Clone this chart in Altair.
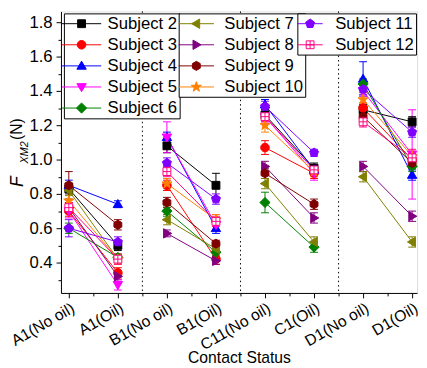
import json
import altair as alt
import pandas as pd

categories = ["A1(No oil)", "A1(Oil)", "B1(No oil)", "B1(Oil)",
              "C11(No oil)", "C1(Oil)", "D1(No oil)", "D1(Oil)"]
subjects = ["Subject 2", "Subject 3", "Subject 4", "Subject 5", "Subject 6", "Subject 7",
            "Subject 8", "Subject 9", "Subject 10", "Subject 11", "Subject 12"]
colors = ["#000000", "#FF0000", "#0000FF", "#FF00FF", "#008000", "#808000",
          "#800080", "#800000", "#FF8000", "#8000FF", "#FF0080"]
fills = ["#000000", "#FF0000", "#0000FF", "#FF00FF", "#008000", "#808000",
         "#800080", "#800000", "#FF8000", "#8000FF", "#FFFFFF"]

s2 = [0.83, 0.50, 1.08, 0.85, 1.26, 0.95, 1.29, 1.22]
s3 = [0.70, 0.34, 0.85, 0.42, 1.07, 0.92, 1.30, 1.00]
s4 = [0.85, 0.74, 1.13, 0.60, 1.32, 0.94, 1.47, 0.91]
s5 = [0.70, 0.27, 1.13, 0.62, 1.25, 0.92, 1.40, 1.03]
s6 = [0.60, 0.43, 0.70, 0.46, 0.75, 0.49, 1.44, 0.96]
s7 = [0.82, 0.42, 0.65, 0.48, 0.86, 0.52, 0.90, 0.52]
s8 = [0.72, 0.32, 0.57, 0.41, 0.96, 0.66, 0.96, 0.67]
s9 = [0.85, 0.62, 0.75, 0.51, 0.92, 0.74, 1.25, 0.98]
s10 = [0.76, 0.42, 0.86, 0.65, 1.20, 0.93, 1.35, 1.02]
s11 = [0.60, 0.52, 0.98, 0.77, 1.31, 1.04, 1.41, 1.16]
s12 = [0.72, 0.42, 0.93, 0.64, 1.25, 0.94, 1.22, 1.01]

e2 = [0.03, 0.03, 0.04, 0.07, 0.03, 0.03, 0.03, 0.03]
e3 = [0.03, 0.03, 0.03, 0.03, 0.04, 0.03, 0.03, 0.04]
e4 = [0.03, 0.02, 0.03, 0.03, 0.03, 0.03, 0.10, 0.03]
e5 = [0.04, 0.03, 0.09, 0.03, 0.03, 0.04, 0.03, 0.26]
e6 = [0.03, 0.02, 0.03, 0.02, 0.06, 0.03, 0.03, 0.03]
e7 = [0.03, 0.02, 0.03, 0.02, 0.03, 0.03, 0.03, 0.03]
e8 = [0.03, 0.02, 0.02, 0.02, 0.03, 0.03, 0.03, 0.03]
e9 = [0.08, 0.03, 0.03, 0.02, 0.03, 0.03, 0.03, 0.03]
e10 = [0.05, 0.03, 0.03, 0.03, 0.04, 0.03, 0.04, 0.03]
e11 = [0.05, 0.03, 0.03, 0.03, 0.03, 0.02, 0.03, 0.03]
e12 = [0.03, 0.03, 0.03, 0.03, 0.03, 0.03, 0.03, 0.05]

separators = [2.5, 4.5, 6.5]
y_major = [0.4, 0.6, 0.8, 1.0, 1.2, 1.4, 1.6, 1.8]
y_minor = [0.3, 0.5, 0.7, 0.9, 1.1, 1.3, 1.5, 1.7]
x_major = [1, 2, 3, 4, 5, 6, 7, 8]
x_minor = [1.5, 2.5, 3.5, 4.5, 5.5, 6.5, 7.5]

vals = [s2, s3, s4, s5, s6, s7, s8, s9, s10, s11, s12]
errs = [e2, e3, e4, e5, e6, e7, e8, e9, e10, e11, e12]

# marker outlines in unit coordinates
markers = [
    "M-1,-1L1,-1L1,1L-1,1Z",
    "M-1.1,0A1.1,1.1,0,1,1,1.1,0A1.1,1.1,0,1,1,-1.1,0Z",
    "M0,-1.2L1.2,0.85L-1.2,0.85Z",
    "M0,1.2L1.2,-0.85L-1.2,-0.85Z",
    "M0,-1.3L1.3,0L0,1.3L-1.3,0Z",
    "M-1.2,0L0.85,-1.2L0.85,1.2Z",
    "M1.2,0L-0.85,-1.2L-0.85,1.2Z",
    "M0,-1.15L1,-0.58L1,0.58L0,1.15L-1,0.58L-1,-0.58Z",
    "M0,-1.35L0.32,-0.44L1.28,-0.42L0.51,0.17L0.79,1.09L0,0.54L-0.79,1.09L-0.51,0.17L-1.28,-0.42L-0.32,-0.44Z",
    "M0,-1.2L1.14,-0.37L0.7,0.97L-0.7,0.97L-1.14,-0.37Z",
    "M-1,-1L1,-1L1,1L-1,1ZM0,-1L0,1M-1,0L1,0",
]

rows = []
for si, s in enumerate(subjects):
    for ci, c in enumerate(categories):
        v = vals[si][ci]
        e = errs[si][ci]
        rows.append({"subject": s, "pos": ci + 1, "value": v, "lo": v - e, "hi": v + e,
                     "pair": ci // 2})
df = pd.DataFrame(rows)

FONT = "Liberation Sans"
xscale = alt.Scale(domain=[0.84, 8.1], nice=False, zero=False)
yscale = alt.Scale(domain=[0.223, 1.863], nice=False, zero=False)


def cscale():
    return alt.Scale(domain=subjects, range=colors)


base = alt.Chart(df)

seps = alt.Chart(pd.DataFrame({"s": separators})).mark_rule(
    color="black", strokeWidth=1, strokeDash=[1.5, 3]
).encode(x=alt.X("s:Q", scale=xscale, axis=None))

lines = base.mark_line(strokeWidth=1, opacity=1).encode(
    x=alt.X("pos:Q", scale=xscale,
            axis=alt.Axis(values=x_minor, labels=False, tickSize=3, domain=False,
                          grid=False, title=None, orient="bottom", tickColor="black")),
    y=alt.Y("value:Q", scale=yscale,
            axis=alt.Axis(values=y_minor, labels=False, tickSize=3, domain=False,
                          grid=False, title=None, orient="left", tickColor="black")),
    color=alt.Color("subject:N", scale=cscale(), legend=None),
    detail="pair:N",
)

ebar = base.mark_rule(strokeWidth=1, opacity=1).encode(
    x=alt.X("pos:Q", scale=xscale, axis=None),
    y=alt.Y("lo:Q", scale=yscale, axis=None),
    y2="hi:Q",
    color=alt.Color("subject:N", scale=cscale(), legend=None),
)
cap_lo = base.mark_tick(orient="horizontal", size=8, thickness=1, opacity=1).encode(
    x=alt.X("pos:Q", scale=xscale, axis=None),
    y=alt.Y("lo:Q", scale=yscale, axis=None),
    color=alt.Color("subject:N", scale=cscale(), legend=None),
)
cap_hi = base.mark_tick(orient="horizontal", size=8, thickness=1, opacity=1).encode(
    x=alt.X("pos:Q", scale=xscale, axis=None),
    y=alt.Y("hi:Q", scale=yscale, axis=None),
    color=alt.Color("subject:N", scale=cscale(), legend=None),
)

label_expr = json.dumps(categories) + "[datum.value - 1]"
points = base.mark_point(filled=True, size=64, strokeWidth=1, opacity=1).encode(
    x=alt.X("pos:Q", scale=xscale,
            axis=alt.Axis(values=x_major, labelExpr=label_expr, labelAngle=330,
                          labelAlign="right", labelBaseline="top", labelFontSize=16,
                          labelFont=FONT, labelColor="black", labelPadding=2,
                          tickSize=5, tickColor="black", domainColor="black",
                          grid=False, orient="bottom", labelOverlap=False,
                          labelFlush=False, title="Contact Status", titleFont=FONT,
                          titleFontSize=16, titleFontWeight="normal",
                          titleColor="black", titlePadding=-3)),
    y=alt.Y("value:Q", scale=yscale,
            axis=alt.Axis(values=y_major, format=".1f", labelFontSize=17,
                          labelFont=FONT, labelColor="black", labelPadding=4,
                          tickSize=5, tickColor="black", domainColor="black",
                          grid=False, orient="left", title=None)),
    fill=alt.Fill("subject:N", scale=alt.Scale(domain=subjects, range=fills), legend=None),
    stroke=alt.Stroke("subject:N", scale=cscale(), legend=None),
    shape=alt.Shape("subject:N", scale=alt.Scale(domain=subjects, range=markers), legend=None),
)


def legend_layer(idx, half, lx, sym_off, lab_off):
    subs = [subjects[i] for i in idx]
    shapes = [f"M-{half},0L{half},0" + markers[i] for i in idx]
    leg = alt.Legend(orient="none", legendX=lx, legendY=2, title=None,
                     labelFont=FONT, labelFontSize=17, labelColor="black",
                     symbolSize=64, symbolStrokeWidth=1, symbolOffset=sym_off,
                     labelOffset=lab_off, rowPadding=3.5, padding=2,
                     strokeColor="black", fillColor="white", labelLimit=200)
    ldf = pd.DataFrame({"subject": subs})
    return alt.Chart(ldf).mark_point(filled=True, size=64, strokeWidth=1, opacity=1).encode(
        x=alt.value(-500), y=alt.value(-500),
        fill=alt.Fill("subject:N", scale=alt.Scale(domain=subs, range=[fills[i] for i in idx]),
                      legend=leg),
        stroke=alt.Stroke("subject:N", scale=alt.Scale(domain=subs, range=[colors[i] for i in idx]),
                          legend=leg),
        shape=alt.Shape("subject:N", scale=alt.Scale(domain=subs, range=shapes), legend=leg),
    )


leg1 = legend_layer([0, 1, 2, 3, 4], 5, 3, 7.5, 18)
leg2 = legend_layer([5, 6, 7, 8], 4.5, 120, 7.5, 20)
leg3 = legend_layer([9, 10], 3.2, 241, 2.5, 17)

title_parts = pd.DataFrame({
    "t": ["F", "XM2", "(N)"],
})
ttl_f = alt.Chart(title_parts.iloc[[0]]).mark_text(
    angle=270, align="left", baseline="alphabetic", font=FONT, fontSize=18,
    fontStyle="italic", color="black").encode(x=alt.value(-39), y=alt.value(179), text="t:N")
ttl_s = alt.Chart(title_parts.iloc[[1]]).mark_text(
    angle=270, align="left", baseline="alphabetic", font=FONT, fontSize=11,
    fontStyle="italic", color="black").encode(x=alt.value(-34), y=alt.value(155), text="t:N")
ttl_n = alt.Chart(title_parts.iloc[[2]]).mark_text(
    angle=270, align="left", baseline="alphabetic", font=FONT, fontSize=16,
    color="black").encode(x=alt.value(-40), y=alt.value(131), text="t:N")

chart = alt.layer(
    seps, lines, ebar, cap_lo, cap_hi, points, leg1, leg2, leg3, ttl_f, ttl_s, ttl_n
).resolve_scale(
    color="independent", fill="independent", stroke="independent", shape="independent"
).resolve_axis(
    x="independent", y="independent"
).properties(
    width=363, height=287,
    autosize=alt.AutoSizeParams(type="none"),
    padding={"left": 54, "top": 0, "right": 2, "bottom": 73},
).configure_view(
    stroke="black", strokeWidth=1
).configure(font=FONT)

chart.save("out.html", embed_options={"renderer": "svg", "actions": False})
